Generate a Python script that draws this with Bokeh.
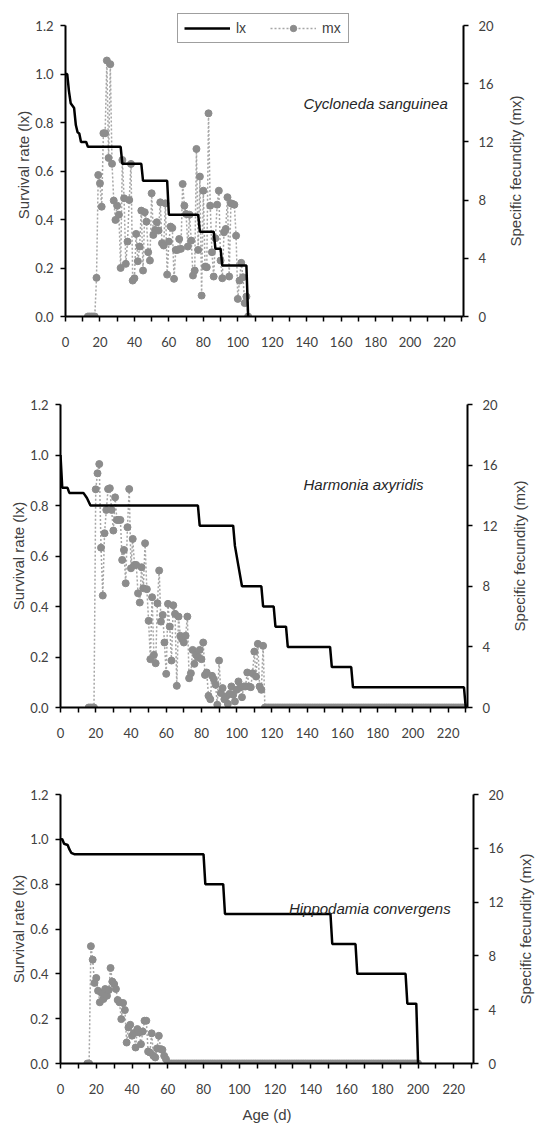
import math
from bokeh.plotting import figure
from bokeh.models import (Range1d, LinearAxis, FixedTicker, Legend, LegendItem,
                          Label, NumeralTickFormatter)
from bokeh.layouts import column, row
from bokeh.core.properties import value
from bokeh.embed import file_html
from bokeh.resources import INLINE

# ---------------- data ----------------
AGE_MAJOR = [0, 20, 40, 60, 80, 100, 120, 140, 160, 180, 200, 220]
AGE_MINOR = [10, 30, 50, 70, 90, 110, 130, 150, 170, 190, 210, 230]
LX_TICKS = [0.0, 0.2, 0.4, 0.6, 0.8, 1.0, 1.2]
MX_TICKS = [0, 4, 8, 12, 16, 20]
X_MAX = 231

species = ["Cycloneda sanguinea", "Harmonia axyridis", "Hippodamia convergens"]

# Cycloneda sanguinea
c_lx_age = [0, 1, 2, 3, 5, 6, 7, 8, 9, 12, 13, 32, 33, 44, 45, 59, 60, 77, 78, 86, 87, 90, 91, 105, 106]
c_lx = [1.0, 1.0, 0.93, 0.88, 0.86, 0.79, 0.76, 0.755, 0.72, 0.72, 0.70, 0.70, 0.63, 0.63, 0.56, 0.56,
        0.42, 0.42, 0.35, 0.35, 0.28, 0.28, 0.21, 0.21, 0.0]
c_mx_start = 13
c_mx = [0, 0, 0, 0, 0,
        2.66, 9.73, 9.16, 7.55, 12.6, 12.6, 17.6, 10.9, 17.35, 10.5,
        7.97, 6.64, 7.62, 7.0, 3.34, 10.76, 8.13, 3.62, 5.15, 8.01,
        10.49, 2.47, 2.63, 5.68, 3.80, 4.81, 7.28, 3.16, 7.17, 6.52,
        4.42, 3.85, 8.47, 5.61, 5.95, 6.48, 5.91, 7.85, 5.04, 4.88,
        7.78, 2.88, 5.15, 6.18, 6.09, 2.59, 4.58, 4.58, 5.33, 4.65,
        9.11, 7.62, 7.05, 4.81, 7.0, 5.22, 2.82, 3.16, 11.52, 4.58,
        9.62, 1.44, 8.65, 3.43, 3.39, 13.97, 7.62, 4.42, 2.75, 5.38,
        7.69, 8.65, 3.85, 2.63, 5.79, 6.02, 8.2, 2.75, 7.78, 7.74,
        7.69, 5.56, 1.21, 2.47, 3.69, 2.7, 0.92, 1.37, 0]

# Harmonia axyridis
h_lx_age = [0, 1, 4, 5, 13, 15, 17, 78, 79, 98, 99, 101, 103, 114, 115, 121, 122, 128, 129,
            153, 154, 165, 166, 229, 230]
h_lx = [1.0, 0.87, 0.87, 0.85, 0.85, 0.83, 0.80, 0.80, 0.72, 0.72, 0.64, 0.56, 0.48, 0.48, 0.40,
        0.40, 0.32, 0.32, 0.24, 0.24, 0.16, 0.16, 0.08, 0.08, 0.0]
h_mx_start = 16
h_mx = [0, 0, 0, 0,
        14.4, 15.46, 16.07, 10.55, 7.39, 11.5, 13.04, 14.42, 14.47, 13.04,
        11.68, 13.87, 12.38, 12.38, 12.38, 9.74, 10.4, 8.2, 11.9, 14.42,
        9.19, 11.13, 9.41, 9.41, 7.54, 6.93, 9.26, 7.87, 10.84, 7.81,
        5.72, 3.19, 7.28, 3.47, 2.92, 6.88, 9.04, 5.67, 6.11, 4.29,
        2.22, 6.84, 5.34, 3.1, 6.75, 6.18, 1.43, 6.0, 4.73, 4.51,
        4.29, 4.73, 6.0, 1.93, 2.26, 3.8, 2.88, 3.47, 3.32, 3.8,
        3.19, 4.29, 2.15, 2.31, 0.77, 0.55, 2.09, 1.87, 1.5, 0.18,
        3.1, 0.95, 1.28, 0.55, 0.73, 0.24, 0.9, 1.39, 0.84, 0.4,
        1.17, 1.72, 1.32, 0.68, 1.39, 1.39, 2.31, 1.39, 1.34, 2.26,
        3.69, 2.04, 4.2, 1.39, 1.17, 4.07]
h_mx_zero_days = 115  # zero-fecundity days that follow (to day 230)

# Hippodamia convergens
p_lx_age = [0, 1, 2, 4, 5, 6, 8, 80, 81, 91, 92, 151, 152, 165, 166, 193, 194, 199, 200]
p_lx = [1.0, 1.0, 0.98, 0.975, 0.955, 0.94, 0.933, 0.933, 0.80, 0.80, 0.667, 0.667, 0.533, 0.533,
        0.40, 0.40, 0.267, 0.267, 0.0]
p_mx_start = 15
p_mx = [0, 0,
        8.72, 7.72, 5.99, 6.36, 5.41, 4.55, 5.24, 4.79, 5.54, 5.04,
        5.46, 7.1, 6.09, 5.91, 5.54, 4.72, 4.55, 3.3, 4.5, 3.97,
        1.56, 2.68, 2.88, 2.07, 2.26, 1.19, 2.56, 2.31, 1.44, 2.38,
        3.18, 3.18, 0.89, 0.82, 2.24, 0.57, 0.45, 1.12, 2.06, 1.07,
        1.02, 0.57, 0.32]
p_mx_zero_days = 141  # zero-fecundity days that follow (to day 200)

# ---------------- style ----------------
TICK_FONT = "Lato"
LABEL_FONT = "Liberation Sans"
TXT = "#404040"
MX_COLOR = "#8c8c8c"
MX_LINE = "#a6a6a6"
PAGE_W = 543


def make_panel(lx_age, lx, mx_age, mx, name, name_xy, geom, legend=False, xlabel=None, y_top=1.2):
    w, h, bl, br, bt, bb = geom
    p = figure(width=w, height=h, x_range=Range1d(0, X_MAX), y_range=Range1d(0, y_top),
               output_backend="svg", toolbar_location=None,
               min_border_left=bl, min_border_right=br, min_border_top=bt, min_border_bottom=bb)
    p.extra_y_ranges = {"mx": Range1d(0, 20 * y_top / 1.2)}
    p.outline_line_color = None
    p.xgrid.visible = False
    p.ygrid.visible = False

    rax = LinearAxis(y_range_name="mx", ticker=FixedTicker(ticks=MX_TICKS), bounds=(0, 20))
    p.add_layout(rax, "right")

    p.xaxis.ticker = FixedTicker(ticks=AGE_MAJOR, minor_ticks=AGE_MINOR)
    p.yaxis[0].ticker = FixedTicker(ticks=LX_TICKS)
    p.yaxis[0].bounds = (0, 1.2)
    p.yaxis[0].formatter = NumeralTickFormatter(format="0.0")
    p.yaxis[0].axis_label = "Survival rate (lx)"
    if xlabel:
        p.xaxis.axis_label = xlabel

    for ax in p.axis:
        ax.axis_line_color = "black"
        ax.axis_line_width = 2
        ax.major_tick_line_color = "black"
        ax.major_tick_line_width = 1.5
        ax.major_tick_in = 0
        ax.major_tick_out = 5
        ax.major_label_text_font = TICK_FONT
        ax.major_label_text_font_size = "13px"
        ax.major_label_text_color = TXT
        ax.axis_label_text_font = LABEL_FONT
        ax.axis_label_text_font_size = "15px"
        ax.axis_label_text_font_style = "normal"
        ax.axis_label_text_color = TXT
    p.xaxis.minor_tick_line_color = "black"
    p.xaxis.minor_tick_line_width = 1.5
    p.xaxis.minor_tick_in = 0
    p.xaxis.minor_tick_out = 5
    p.xaxis.major_label_standoff = 15
    p.xaxis.axis_label_standoff = 9
    p.yaxis.minor_tick_line_color = None
    p.yaxis[0].major_label_standoff = 7
    p.yaxis[0].axis_label_standoff = 0
    rax.major_label_standoff = 10

    ml = p.line(mx_age, mx, y_range_name="mx", line_color=MX_LINE, line_width=1.5, line_dash="2 2")
    ms = p.scatter(mx_age, mx, y_range_name="mx", size=7, fill_color=MX_COLOR, line_color=MX_COLOR)
    ll = p.line(lx_age, lx, line_color="black", line_width=2.5)

    p.add_layout(Label(x=name_xy[0], y=name_xy[1], text=name, text_font=LABEL_FONT,
                       text_font_style="italic", text_font_size="15px", text_align="center",
                       text_baseline="middle", text_color="#262626"))

    if legend:
        lg = Legend(items=[LegendItem(label="lx", renderers=[ll]),
                           LegendItem(label="mx", renderers=[ml, ms])],
                    location=(112, 273), orientation="horizontal",
                    glyph_width=46, glyph_height=16, label_height=16, label_standoff=6,
                    spacing=14, padding=6, margin=0,
                    label_text_font=LABEL_FONT, label_text_font_size="14px",
                    label_text_color=TXT, border_line_color="#404040", border_line_width=1,
                    background_fill_color="white", background_fill_alpha=1.0)
        p.add_layout(lg)

    # narrow companion figure carrying the right-hand axis title, reading bottom to top
    sw = PAGE_W - w
    s = figure(width=sw, height=h, x_range=Range1d(0, sw), y_range=Range1d(0, y_top),
               output_backend="svg", toolbar_location=None,
               min_border_left=0, min_border_right=0, min_border_top=bt, min_border_bottom=bb)
    s.axis.visible = False
    s.xgrid.visible = False
    s.ygrid.visible = False
    s.outline_line_color = None
    s.text(x=[15], y=[0.6], text=["Specific fecundity (mx)"], angle=math.pi / 2,
           text_align="center", text_baseline="middle", text_font=value(LABEL_FONT),
           text_font_size="15px", text_color=TXT)
    return row(p, s, spacing=0)


def days(start, vals):
    return list(range(start, start + len(vals)))


c_age = days(c_mx_start, c_mx)
h_vals = h_mx + [0] * h_mx_zero_days
h_age = days(h_mx_start, h_vals)
p_vals = p_mx + [0] * p_mx_zero_days
p_age = days(p_mx_start, p_vals)

# geometry: width, height, border left, right, top, bottom
r1 = make_panel(c_lx_age, c_lx, c_age, c_mx, species[0], (180, 0.878),
                (500, 380, 65, 37, 13, 64), legend=True, y_top=1.25)
r2 = make_panel(h_lx_age, h_lx, h_age, h_vals, species[1], (172, 0.883),
                (504, 390, 60, 37, 24, 63))
r3 = make_panel(p_lx_age, p_lx, p_age, p_vals, species[2], (173, 0.69),
                (510, 355, 60, 37, 24, 61), xlabel="Age (d)")

layout = column(r1, r2, r3, spacing=0)
open("out.html", "w").write(file_html(layout, INLINE))
